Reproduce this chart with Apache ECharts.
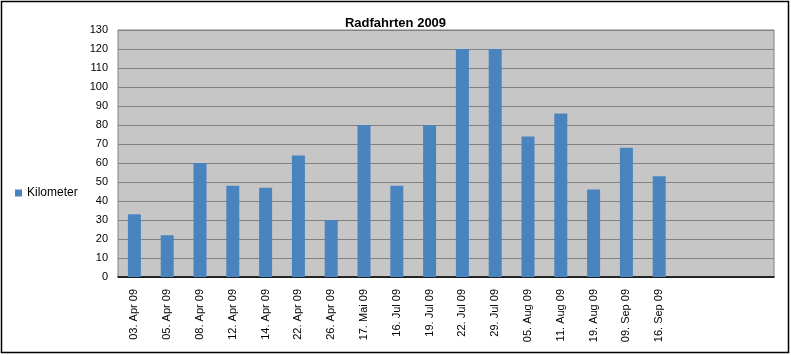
<!DOCTYPE html>
<html><head><meta charset="utf-8">
<script src="https://cdn.jsdelivr.net/npm/echarts@6/dist/echarts.min.js"></script>
<style>html,body{margin:0;padding:0;background:#fff}#c{width:791px;height:355px}</style>
</head><body><div id="c"></div>
<script>
const categories = ["03. Apr 09","05. Apr 09","08. Apr 09","12. Apr 09","14. Apr 09","22. Apr 09","26. Apr 09","17. Mai 09","16. Jul 09","19. Jul 09","22. Jul 09","29. Jul 09","05. Aug 09","11. Aug 09","19. Aug 09","09. Sep 09","16. Sep 09","","",""];
const kilometer = [33,22,60,48,47,64,30,80,48,80,120,120,74,86,46,68,53,null,null,null];
const yTicks = {min:0, max:130, interval:10};

const chart = echarts.init(document.getElementById('c'), null, {renderer:'canvas'});
chart.setOption({
  animation:false,
  backgroundColor:'#ffffff',
  title:{text:'Radfahrten 2009', left:'center', top:12, textStyle:{fontFamily:'Liberation Sans, Arial', fontSize:13, fontWeight:'bold', color:'#000'}},
  legend:{data:['Kilometer'], orient:'vertical', left:10, top:182, icon:'rect', itemWidth:7, itemHeight:7, itemGap:4,
    textStyle:{fontFamily:'Liberation Sans, Arial', fontSize:12, color:'#000'}},
  grid:{left:118, right:17, top:30, bottom:78, show:true, backgroundColor:'#c6c6c6', borderColor:'#808080', borderWidth:1},
  xAxis:{type:'category', data:categories, axisTick:{show:false},
    axisLine:{lineStyle:{color:'#000', width:1.5}},
    axisLabel:{rotate:90, interval:0, margin:12, fontFamily:'Liberation Sans, Arial', fontSize:11, color:'#000'}},
  yAxis:{type:'value', min:yTicks.min, max:yTicks.max, interval:yTicks.interval,
    axisLine:{show:false}, axisTick:{show:false},
    splitLine:{lineStyle:{color:'#808080', width:1}},
    axisLabel:{margin:10, fontFamily:'Liberation Sans, Arial', fontSize:11, color:'#000'}},
  series:[{name:'Kilometer', type:'bar', data:kilometer, barWidth:13, itemStyle:{color:'#4a84bf'}}],
  graphic:[{type:'rect', shape:{x:1.5,y:1.5,width:787,height:351}, style:{fill:'none', stroke:'#000', lineWidth:1.5}, silent:true}]
});
</script></body></html>
